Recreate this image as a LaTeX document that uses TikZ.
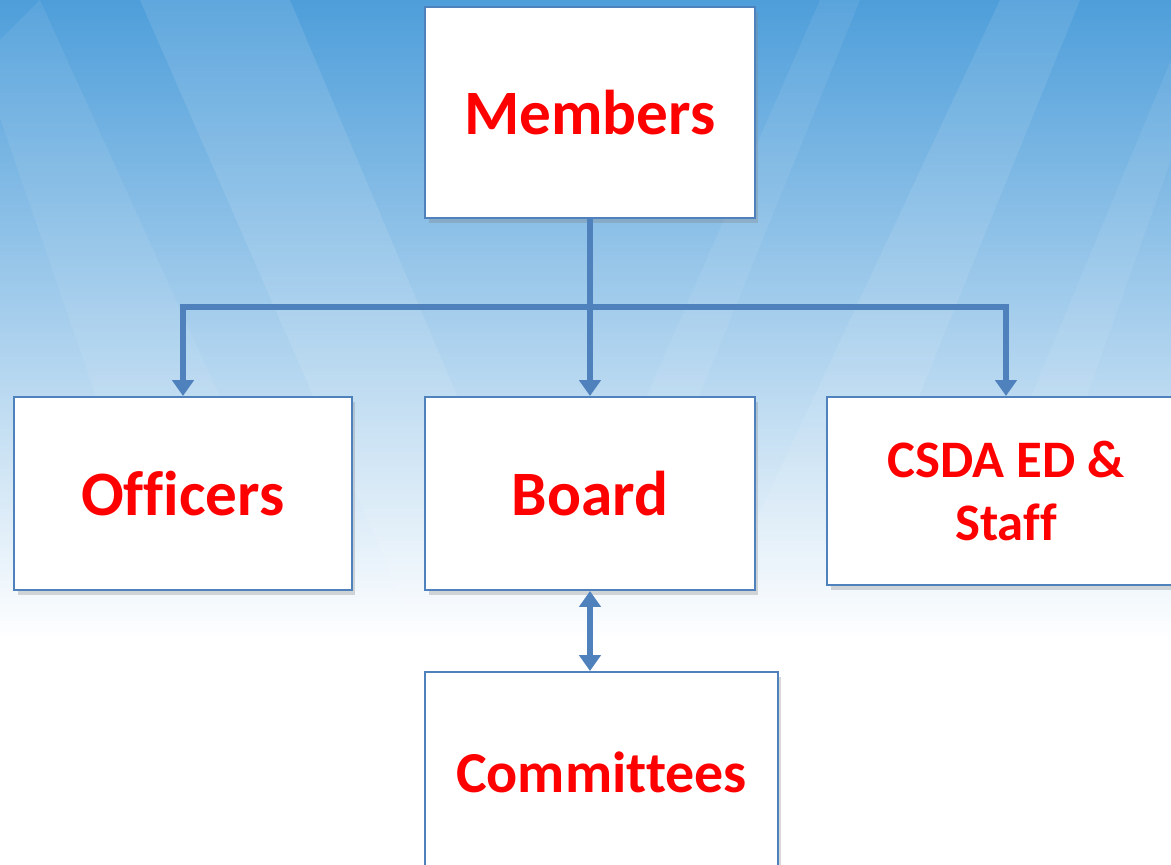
\documentclass[tikz,border=0pt]{standalone}
\usepackage{fontspec}
\setmainfont[Ligatures=NoCommon]{Carlito}
\usepackage{tikz}
\usetikzlibrary{positioning, arrows.meta, shadows}
\definecolor{boxblue}{RGB}{79,129,189}
\definecolor{skytop}{RGB}{78,158,218}
\definecolor{skymid}{RGB}{168,204,238}
\definecolor{labelred}{RGB}{255,0,0}
\tikzset {
    >={Triangle[width=12pt, length=9pt]},
    box/.style={draw=boxblue, line width=1.2pt, fill=white, inner sep=0pt,
        drop shadow={opacity=0.3, shadow xshift=2pt, shadow yshift=-3pt},
        text=labelred, font=\fontsize{36}{43}\selectfont\bfseries},
    link/.style={draw=boxblue, line width=3.8pt}
}

\begin{document}
\begin{tikzpicture}[x=0.02cm, y=-0.02cm]
                    \useasboundingbox (0,0) rectangle (1171,865);
                    \clip (0,0) rectangle (1171,865);
                    % sky
                    \fill[white] (0,0) rectangle (1171,865);
                    \shade[top color=skytop, middle color=skymid, bottom color=white] (0,0) rectangle (1171,640);
                    \fill[white, opacity=0.1] (140,0) -- (290,0) -- (560,640) -- (420,640) -- cycle;
                    \fill[white, opacity=0.07] (-20,60) -- (40,0) -- (330,640) -- (180,640) -- cycle;
                    \fill[white, opacity=0.09] (1000,0) -- (1080,0) -- (820,640) -- (700,640) -- cycle;
                    \fill[white, opacity=0.07] (820,0) -- (860,0) -- (600,640) -- (540,640) -- cycle;
                    \fill[white, opacity=0.07] (1171,60) -- (1171,160) -- (1000,640) -- (930,640) -- cycle;

                    \node[box, minimum width=6.6cm, minimum height=4.22cm] (members) at (590,112.5) {Members};
                    \node[box, minimum width=6.76cm, minimum height=3.86cm] (officers) at (183,493.5) {Officers};
                    \node[box, minimum width=6.6cm, minimum height=3.86cm] (board) at (590,493.5) {Board};
                    \node[box, minimum width=7.16cm, minimum height=3.76cm, align=center,
                        font=\fontsize{30}{36}\selectfont\bfseries] (staff) at (1006,491) {CSDA ED \&\\Staff};
                    \node[box, minimum width=7.06cm, minimum height=4cm,
                        font=\fontsize{33}{40}\selectfont\bfseries] (committees) at (601.5,772) {Committees};

                    \coordinate (split) at (590,307);
                    \draw[link, ->] (members.south) -- (board.north);
                    \draw[link, ->] (split) -| (officers.north);
                    \draw[link, ->] (split) -| (staff.north);
                    \draw[link, <->] (board.south) -- (board.south |- committees.north);
\end{tikzpicture}
\end{document}
